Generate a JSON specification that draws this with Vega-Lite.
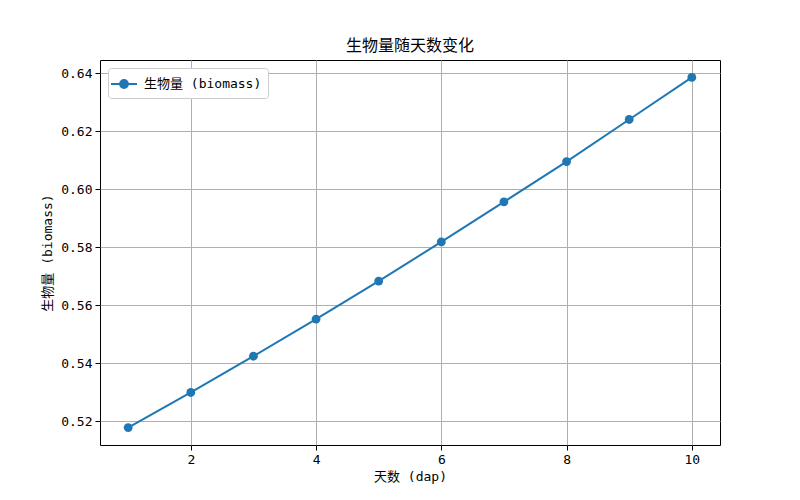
{
  "$schema": "https://vega.github.io/schema/vega-lite/v6.json",
  "width": 620,
  "height": 385,
  "autosize": "none",
  "padding": {"left": 100, "top": 60, "right": 80, "bottom": 55},
  "background": "#ffffff",
  "config": {
    "font": "DejaVu Sans Mono, Noto Sans CJK SC",
    "view": {"stroke": "#000000", "strokeWidth": 1},
    "axis": {
      "labelFont": "DejaVu Sans Mono, Noto Sans CJK SC",
      "titleFont": "DejaVu Sans Mono, Noto Sans CJK SC",
      "labelFontSize": 13,
      "titleFontSize": 13,
      "titleFontWeight": "normal",
      "labelColor": "#000000",
      "titleColor": "#000000",
      "gridColor": "#b0b0b0",
      "gridWidth": 1,
      "domain": false,
      "tickColor": "#000000",
      "tickSize": 5,
      "labelPadding": 3
    }
  },
  "title": {
    "text": "生物量随天数变化",
    "fontSize": 16,
    "fontWeight": "normal",
    "font": "Noto Sans CJK SC",
    "color": "#000000",
    "offset": 6
  },
  "data": {
    "values": [
      {"dap": 1, "biomass": 0.5179, "series": "生物量 (biomass)"},
      {"dap": 2, "biomass": 0.5300, "series": "生物量 (biomass)"},
      {"dap": 3, "biomass": 0.5425, "series": "生物量 (biomass)"},
      {"dap": 4, "biomass": 0.5553, "series": "生物量 (biomass)"},
      {"dap": 5, "biomass": 0.5684, "series": "生物量 (biomass)"},
      {"dap": 6, "biomass": 0.5819, "series": "生物量 (biomass)"},
      {"dap": 7, "biomass": 0.5957, "series": "生物量 (biomass)"},
      {"dap": 8, "biomass": 0.6096, "series": "生物量 (biomass)"},
      {"dap": 9, "biomass": 0.6241, "series": "生物量 (biomass)"},
      {"dap": 10, "biomass": 0.6386, "series": "生物量 (biomass)"}
    ]
  },
  "mark": {
    "type": "line",
    "strokeWidth": 2,
    "point": {"filled": true, "size": 78, "opacity": 1}
  },
  "encoding": {
    "x": {
      "field": "dap",
      "type": "quantitative",
      "scale": {"domain": [0.55, 10.45], "nice": false, "zero": false},
      "axis": {"title": "天数 (dap)", "values": [2, 4, 6, 8, 10], "titlePadding": 4}
    },
    "y": {
      "field": "biomass",
      "type": "quantitative",
      "scale": {"domain": [0.5119, 0.6446], "nice": false, "zero": false},
      "axis": {
        "title": "生物量 (biomass)",
        "values": [0.52, 0.54, 0.56, 0.58, 0.60, 0.62, 0.64],
        "format": ".2f",
        "titlePadding": 6
      }
    },
    "color": {
      "field": "series",
      "type": "nominal",
      "scale": {"range": ["#1f77b4"]},
      "legend": {
        "title": null,
        "orient": "top-left",
        "offset": 8,
        "padding": 6,
        "fillColor": "#ffffff",
        "strokeColor": "#cccccc",
        "cornerRadius": 3,
        "labelFont": "DejaVu Sans Mono, Noto Sans CJK SC",
        "labelFontSize": 13,
        "labelColor": "#000000",
        "symbolType": "M-1.5,0H1.5M-0.45,0A0.45,0.45 0 1,0 0.45,0A0.45,0.45 0 1,0 -0.45,0",
        "symbolSize": 300,
        "symbolStrokeWidth": 2,
        "symbolFillColor": "#1f77b4",
        "symbolStrokeColor": "#1f77b4",
        "labelOffset": 10
      }
    }
  }
}
